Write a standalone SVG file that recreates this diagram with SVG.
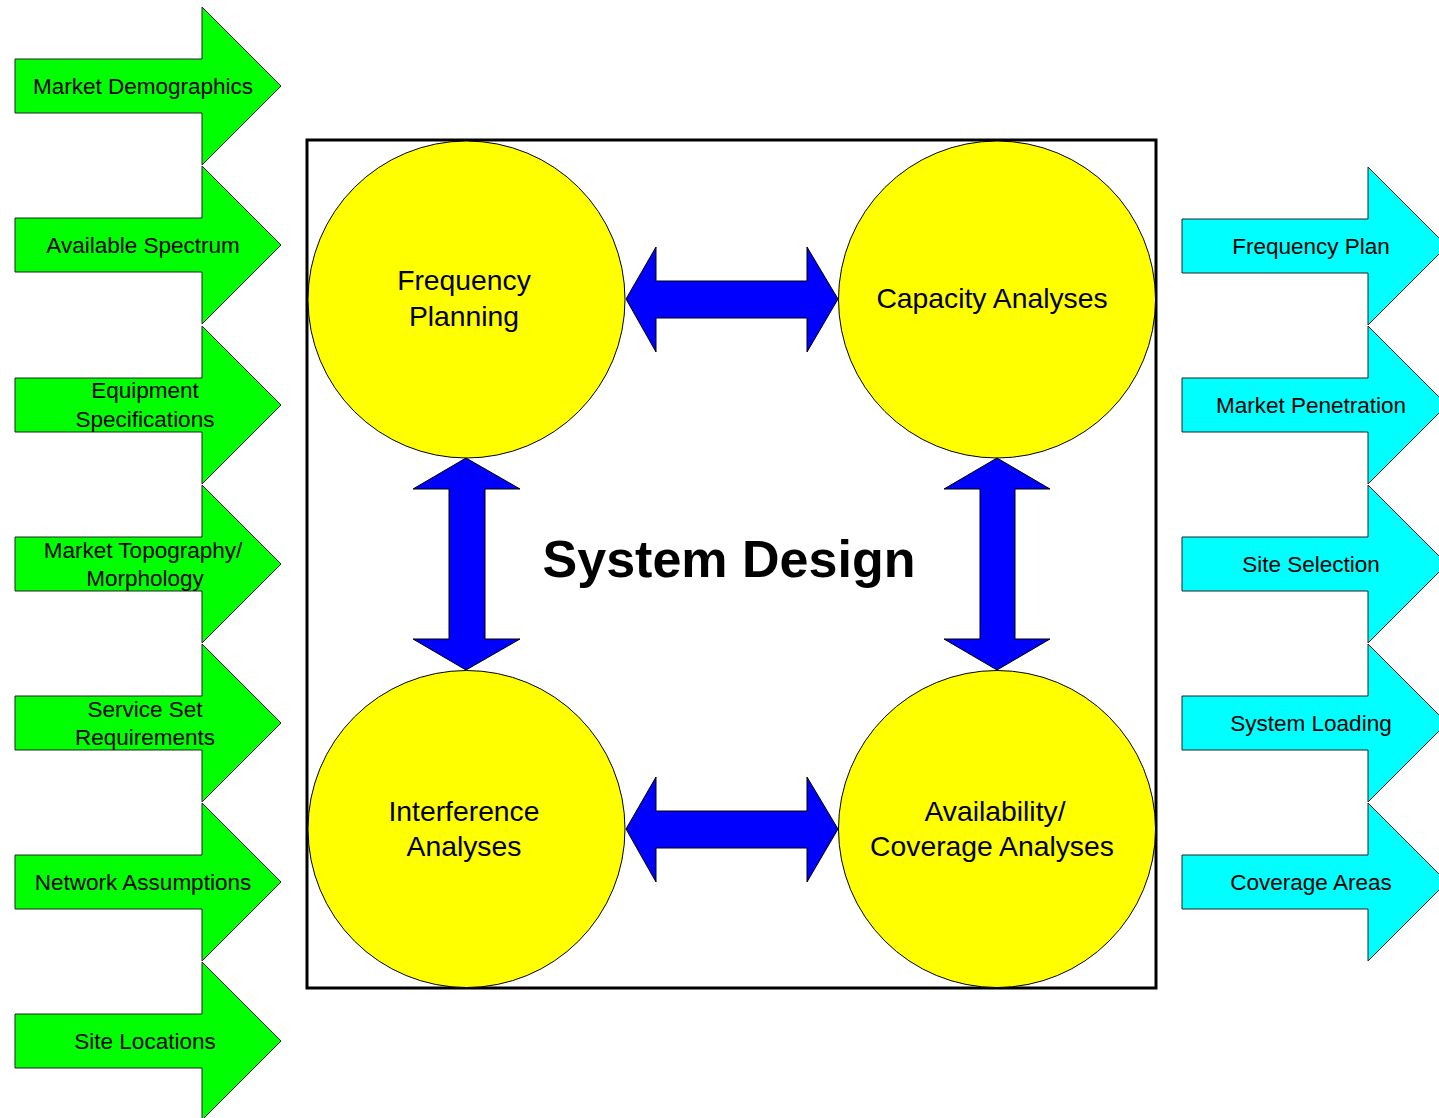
<svg xmlns="http://www.w3.org/2000/svg" xmlns:xlink="http://www.w3.org/1999/xlink" width="1439" height="1118" viewBox="0 0 1439 1118">
  <style>
    .in { fill: #00ff00; stroke: #222; stroke-width: 1; }
    .out { fill: #00ffff; stroke: #222; stroke-width: 1; }
    .proc { fill: #ffff00; stroke: #000; stroke-width: 1; }
    .link { fill: #0000ff; stroke: #000; stroke-width: 1; }
    .lbl { font-family: "Liberation Sans", Arial, sans-serif; font-size: 22.5px; fill: #000; text-anchor: middle; }
    .clbl { font-family: "Liberation Sans", Arial, sans-serif; font-size: 28.3px; fill: #000; text-anchor: middle; }
    .title { font-family: "Liberation Sans", Arial, sans-serif; font-size: 52px; font-weight: bold; fill: #000; text-anchor: middle; }
  </style>
  <defs>
    <!-- block arrow, centred vertically on y=0 -->
    <polygon id="inArrow" points="15,-27 202,-27 202,-79 281,0 202,79 202,27 15,27"/>
    <polygon id="outArrow" points="1182,-27 1368,-27 1368,-79 1447,0 1368,79 1368,27 1182,27"/>
  </defs>
  <rect width="1439" height="1118" fill="#fff"/>

  <!-- inputs -->
  <g id="in-demographics"><use xlink:href="#inArrow" class="in" y="86"/><text class="lbl" x="143" y="94">Market Demographics</text></g>
  <g id="in-spectrum"><use xlink:href="#inArrow" class="in" y="245"/><text class="lbl" x="143" y="253">Available Spectrum</text></g>
  <g id="in-equipment"><use xlink:href="#inArrow" class="in" y="405"/><text class="lbl" x="145" y="398">Equipment</text><text class="lbl" x="145" y="427">Specifications</text></g>
  <g id="in-topography"><use xlink:href="#inArrow" class="in" y="564"/><text class="lbl" x="143" y="558">Market Topography/</text><text class="lbl" x="145" y="586">Morphology</text></g>
  <g id="in-service"><use xlink:href="#inArrow" class="in" y="723"/><text class="lbl" x="145" y="717">Service Set</text><text class="lbl" x="145" y="745">Requirements</text></g>
  <g id="in-network"><use xlink:href="#inArrow" class="in" y="882"/><text class="lbl" x="143" y="890">Network Assumptions</text></g>
  <g id="in-sites"><use xlink:href="#inArrow" class="in" y="1041"/><text class="lbl" x="145" y="1049">Site Locations</text></g>

  <!-- outputs -->
  <g id="out-freqplan"><use xlink:href="#outArrow" class="out" y="246"/><text class="lbl" x="1311" y="254">Frequency Plan</text></g>
  <g id="out-penetration"><use xlink:href="#outArrow" class="out" y="405"/><text class="lbl" x="1311" y="413">Market Penetration</text></g>
  <g id="out-siteselection"><use xlink:href="#outArrow" class="out" y="564"/><text class="lbl" x="1311" y="572">Site Selection</text></g>
  <g id="out-loading"><use xlink:href="#outArrow" class="out" y="723"/><text class="lbl" x="1311" y="731">System Loading</text></g>
  <g id="out-coverage"><use xlink:href="#outArrow" class="out" y="882"/><text class="lbl" x="1311" y="890">Coverage Areas</text></g>

  <!-- system design frame -->
  <g id="system-design">
    <rect x="307" y="140" width="849" height="848" fill="#fff" stroke="#000" stroke-width="3"/>
    <text class="title" x="729" y="577">System Design</text>
  </g>

  <g id="freq-planning">
    <circle class="proc" cx="466.5" cy="299.5" r="158.5"/>
    <text class="clbl" x="464" y="290">Frequency</text>
    <text class="clbl" x="464" y="326">Planning</text>
  </g>
  <g id="capacity">
    <circle class="proc" cx="997" cy="299.5" r="158.5"/>
    <text class="clbl" x="992" y="308">Capacity Analyses</text>
  </g>
  <g id="interference">
    <circle class="proc" cx="466.5" cy="829" r="158.5"/>
    <text class="clbl" x="464" y="821">Interference</text>
    <text class="clbl" x="464" y="856">Analyses</text>
  </g>
  <g id="availability">
    <circle class="proc" cx="997" cy="829" r="158.5"/>
    <text class="clbl" x="995" y="821">Availability/</text>
    <text class="clbl" x="992" y="856">Coverage Analyses</text>
  </g>

  <!-- two-way links between the analyses -->
  <g id="connectors">
    <polygon class="link" points="626,299 656,247 656,281 807,281 807,247 838,299 807,352 807,318 656,318 656,352"/>
    <polygon class="link" points="626,829 656,777 656,811 807,811 807,777 838,829 807,882 807,848 656,848 656,882"/>
    <polygon class="link" points="466,458 413,489 449,489 449,639 413,639 466,670 520,639 485,639 485,489 520,489"/>
    <polygon class="link" points="997,458 944,489 980,489 980,639 944,639 997,670 1050,639 1015,639 1015,489 1050,489"/>
  </g>
</svg>
